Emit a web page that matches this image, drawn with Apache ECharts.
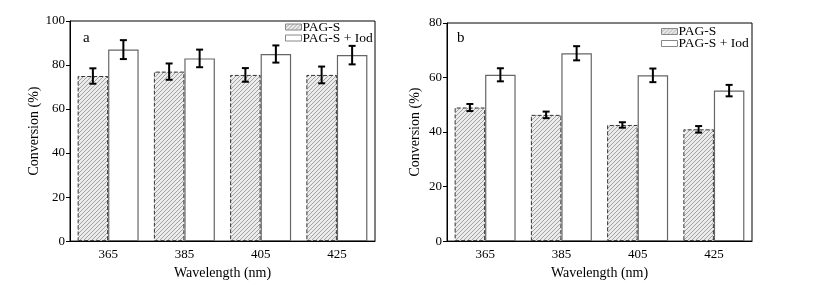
<!DOCTYPE html>
<html><head><meta charset="utf-8">
<script src="https://cdn.jsdelivr.net/npm/echarts@6/dist/echarts.min.js"></script>
<style>html,body{margin:0;padding:0;background:#fff}#c{width:820px;height:285px}</style>
</head><body><div id="c"></div>
<script>
const categories = ['365', '385', '405', '425'];
const seriesNames = ['PAG-S', 'PAG-S + Iod'];
// panel a
const aPagS = [75, 77, 75.5, 75.5];
const aPagSErr = [3.5, 3.7, 3.1, 3.8];
const aIod = [87, 83, 85, 84.5];
const aIodErr = [4.3, 4.0, 3.9, 4.2];
// panel b
const bPagS = [49, 46.3, 42.6, 41];
const bPagSErr = [1.3, 1.2, 1.0, 1.2];
const bIod = [61, 68.9, 60.8, 55.2];
const bIodErr = [2.4, 2.6, 2.5, 2.1];

const FONT = 'Liberation Serif';

function hatch() {
  const c = document.createElement('canvas');
  c.width = 4; c.height = 4;
  const g = c.getContext('2d');
  g.fillStyle = '#ececec'; g.fillRect(0, 0, 4, 4);
  g.strokeStyle = '#9a9a9a'; g.lineWidth = 0.9;
  g.beginPath();
  g.moveTo(0, 4); g.lineTo(4, 0);
  g.moveTo(-1, 1); g.lineTo(1, -1);
  g.moveTo(3, 5); g.lineTo(5, 3);
  g.stroke();
  return c;
}
const hatchFill = { image: hatch(), repeat: 'repeat' };

function errData(vals, errs) {
  return vals.map((v, i) => [i, v - errs[i], v + errs[i]]);
}
function errRender(sign) {
  return function (params, api) {
    const x = api.value(0);
    const lo = api.coord([x, api.value(1)]);
    const hi = api.coord([x, api.value(2)]);
    const band = api.size([1, 0])[0];
    const cx = lo[0] + sign * band * 0.2;
    const w = 3.5;
    const st = { stroke: '#000', lineWidth: 2 };
    return {
      type: 'group', children: [
        { type: 'line', shape: { x1: cx, y1: hi[1], x2: cx, y2: lo[1] }, style: st },
        { type: 'line', shape: { x1: cx - w, y1: hi[1], x2: cx + w, y2: hi[1] }, style: st },
        { type: 'line', shape: { x1: cx - w, y1: lo[1], x2: cx + w, y2: lo[1] }, style: st }
      ]
    };
  };
}

const labelStyle = { color: '#000', fontFamily: FONT, fontSize: 13 };
const nameStyle = { color: '#000', fontFamily: FONT, fontSize: 14 };
function xAxis(idx) {
  return {
    type: 'category', gridIndex: idx, data: categories,
    axisLine: { lineStyle: { color: '#000', width: 1 } },
    axisTick: { show: false },
    axisLabel: Object.assign({ margin: 7 }, labelStyle),
    name: 'Wavelength (nm)', nameLocation: 'middle', nameGap: 21,
    nameTextStyle: nameStyle
  };
}
function yAxis(idx, max) {
  return {
    type: 'value', gridIndex: idx, min: 0, max: max, interval: 20,
    axisLine: { show: true, lineStyle: { color: '#000', width: 1 } },
    axisTick: { show: true, length: 4, lineStyle: { color: '#000' } },
    splitLine: { show: false },
    axisLabel: Object.assign({ margin: 5 }, labelStyle),
    name: 'Conversion (%)', nameLocation: 'middle', nameGap: 25,
    nameTextStyle: nameStyle
  };
}
function bars(idx, pag, iod) {
  return [
    { name: seriesNames[0], type: 'bar', xAxisIndex: idx, yAxisIndex: idx, data: pag,
      barGap: '0%', barCategoryGap: '20%',
      itemStyle: { color: hatchFill, borderColor: '#333', borderWidth: 1, borderType: 'dashed' } },
    { name: seriesNames[1], type: 'bar', xAxisIndex: idx, yAxisIndex: idx, data: iod,
      barGap: '0%', barCategoryGap: '20%',
      itemStyle: { color: '#fff', borderColor: '#666', borderWidth: 1.2 } }
  ];
}
function errs(idx, pag, pagE, iod, iodE) {
  return [
    { type: 'custom', xAxisIndex: idx, yAxisIndex: idx, data: errData(pag, pagE),
      renderItem: errRender(-1), encode: { x: 0, y: [1, 2] }, z: 5, silent: true },
    { type: 'custom', xAxisIndex: idx, yAxisIndex: idx, data: errData(iod, iodE),
      renderItem: errRender(1), encode: { x: 0, y: [1, 2] }, z: 5, silent: true }
  ];
}
function legend(left, top, gap) {
  return {
    data: seriesNames.map(n => ({ name: n, icon: 'rect' })),
    orient: 'vertical', left: left, top: top,
    itemWidth: 16, itemHeight: 6, itemGap: gap, padding: 0,
    itemStyle: { borderColor: '#888', borderWidth: 1, borderType: 'solid' },
    textStyle: { color: '#000', fontFamily: FONT, fontSize: 13.5, padding: [0, 0, 0, -4] },
    selectedMode: false
  };
}

const chart = echarts.init(document.getElementById('c'), null, { renderer: 'canvas' });
chart.setOption({
  animation: false,
  backgroundColor: '#fff',
  grid: [
    { left: 70, right: 445, top: 21, bottom: 40, show: true, borderColor: '#000', borderWidth: 1, backgroundColor: 'transparent' },
    { left: 447, right: 68, top: 23, bottom: 38, show: true, borderColor: '#000', borderWidth: 1, backgroundColor: 'transparent' }
  ],
  legend: [legend(285, 20, -3), legend(661, 24.5, -2)],
  xAxis: [xAxis(0), xAxis(1)],
  yAxis: [yAxis(0, 100), yAxis(1, 80)],
  graphic: [
    { type: 'text', left: 83, top: 31, style: { text: 'a', font: '15px ' + FONT, fill: '#000' } },
    { type: 'text', left: 457, top: 31, style: { text: 'b', font: '15px ' + FONT, fill: '#000' } }
  ],
  series: [].concat(
    bars(0, aPagS, aIod), errs(0, aPagS, aPagSErr, aIod, aIodErr),
    bars(1, bPagS, bIod), errs(1, bPagS, bPagSErr, bIod, bIodErr)
  )
});
</script></body></html>
